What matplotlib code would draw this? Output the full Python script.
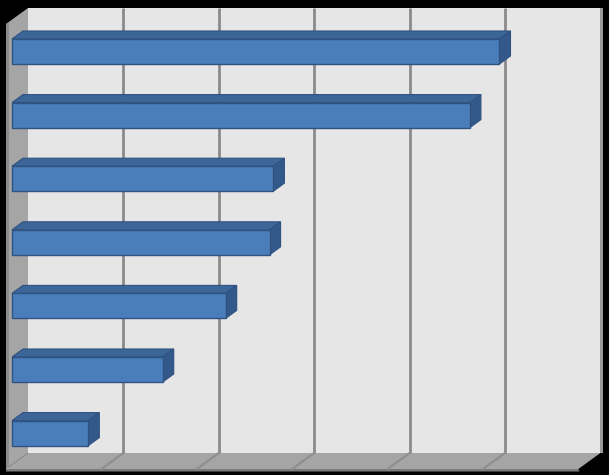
import matplotlib
matplotlib.use("Agg")
import matplotlib.pyplot as plt
from matplotlib.patches import Polygon, Rectangle

# ---- data (no labels shown in the reference) ----
categories = ["A", "B", "C", "D", "E", "F", "G"]
values = [5.11, 4.80, 2.74, 2.70, 2.24, 1.58, 0.80]
value_ticks = [0, 1, 2, 3, 4, 5, 6]

# ---- layout constants (pixels) ----
W, H = 609, 475
X0_PX, XS_PX = 12.0, 95.4        # front bar plane zero & px per unit
Y0_PX, YS_PX = 51.5, 63.6        # first category centre & px per category

def dx(px):
    return px / XS_PX

def dy(px):
    return px / YS_PX

fig = plt.figure(figsize=(W / 100, H / 100), dpi=100)
fig.patch.set_facecolor("black")
ax = fig.add_axes([0, 0, 1, 1])
ax.set_facecolor("black")
ax.set_xlim(-X0_PX / XS_PX, (W - X0_PX) / XS_PX)
ax.set_ylim((H - Y0_PX) / YS_PX, -Y0_PX / YS_PX)
ax.axis("off")

# wall geometry
back_dx = dx(28 - X0_PX)                 # back plane zero offset
wall_top = dy(8 - Y0_PX)
wall_bot = dy(453 - Y0_PX)
depth_dx = dx(-22)                       # back -> front
depth_dy = dy(16)
vmax = value_ticks[-1]

wall_col = "#e6e6e6"
side_col = "#a5a5a5"
grid_col = "#8a8a8a"

# back wall
ax.add_patch(Rectangle((back_dx, wall_top), vmax, wall_bot - wall_top,
                       facecolor=wall_col, edgecolor="none", zorder=1))
# right edge thickness of back wall
ax.add_patch(Rectangle((back_dx + vmax, wall_top), dx(3), wall_bot - wall_top,
                       facecolor="#9a9a9a", edgecolor="none", zorder=1))
# left side wall
lw_poly = [(back_dx, wall_top), (back_dx, wall_bot),
           (back_dx + depth_dx, wall_bot + depth_dy),
           (back_dx + depth_dx, wall_top + depth_dy)]
ax.add_patch(Polygon(lw_poly, closed=True, facecolor=side_col,
                     edgecolor="none", zorder=1))
ax.add_patch(Polygon([(back_dx + depth_dx, wall_top + depth_dy),
                      (back_dx + depth_dx + dx(3), wall_top + depth_dy - dy(2)),
                      (back_dx + depth_dx + dx(3), wall_bot + depth_dy),
                      (back_dx + depth_dx, wall_bot + depth_dy)],
                     closed=True, facecolor="#8c8c8c", edgecolor="none", zorder=1))
# floor
fl_poly = [(back_dx, wall_bot), (back_dx + vmax, wall_bot),
           (back_dx + vmax + depth_dx, wall_bot + depth_dy),
           (back_dx + depth_dx, wall_bot + depth_dy)]
ax.add_patch(Polygon(fl_poly, closed=True, facecolor=side_col,
                     edgecolor="none", zorder=1))
ax.add_patch(Polygon([(back_dx + depth_dx, wall_bot + depth_dy),
                      (back_dx + vmax + depth_dx, wall_bot + depth_dy),
                      (back_dx + vmax + depth_dx + dx(1), wall_bot + depth_dy + dy(2.5)),
                      (back_dx + depth_dx, wall_bot + depth_dy + dy(2.5))],
                     closed=True, facecolor="#7a7a7a", edgecolor="none", zorder=1))

# gridlines: back wall verticals + floor diagonals
for v in value_ticks[1:-1]:
    ax.plot([back_dx + v, back_dx + v], [wall_top, wall_bot],
            color=grid_col, lw=2.0, zorder=2, solid_capstyle="butt")
    ax.plot([back_dx + v, back_dx + v + depth_dx],
            [wall_bot, wall_bot + depth_dy],
            color="#8f8f8f", lw=1.6, zorder=2)

# bars
front_col = "#4a7ebb"
top_col = "#3c6598"
side_bar_col = "#33598a"
edge_col = "#2f5280"
bar_h = dy(25)
bdx, bdy = dx(11), dy(8)

for k, v in enumerate(values):
    y_top = k - bar_h / 2
    y_bot = k + bar_h / 2
    top = [(0, y_top), (v, y_top), (v + bdx, y_top - bdy), (bdx, y_top - bdy)]
    side = [(v, y_top), (v + bdx, y_top - bdy), (v + bdx, y_bot - bdy), (v, y_bot)]
    ax.add_patch(Polygon(top, closed=True, facecolor=top_col,
                         edgecolor=edge_col, lw=0.8, zorder=4))
    ax.add_patch(Polygon(side, closed=True, facecolor=side_bar_col,
                         edgecolor=edge_col, lw=0.8, zorder=4))
    ax.add_patch(Rectangle((0, y_top), v, bar_h, facecolor=front_col,
                           edgecolor=edge_col, lw=1.0, zorder=5))

fig.savefig("out.png", dpi=100, facecolor=fig.get_facecolor())
